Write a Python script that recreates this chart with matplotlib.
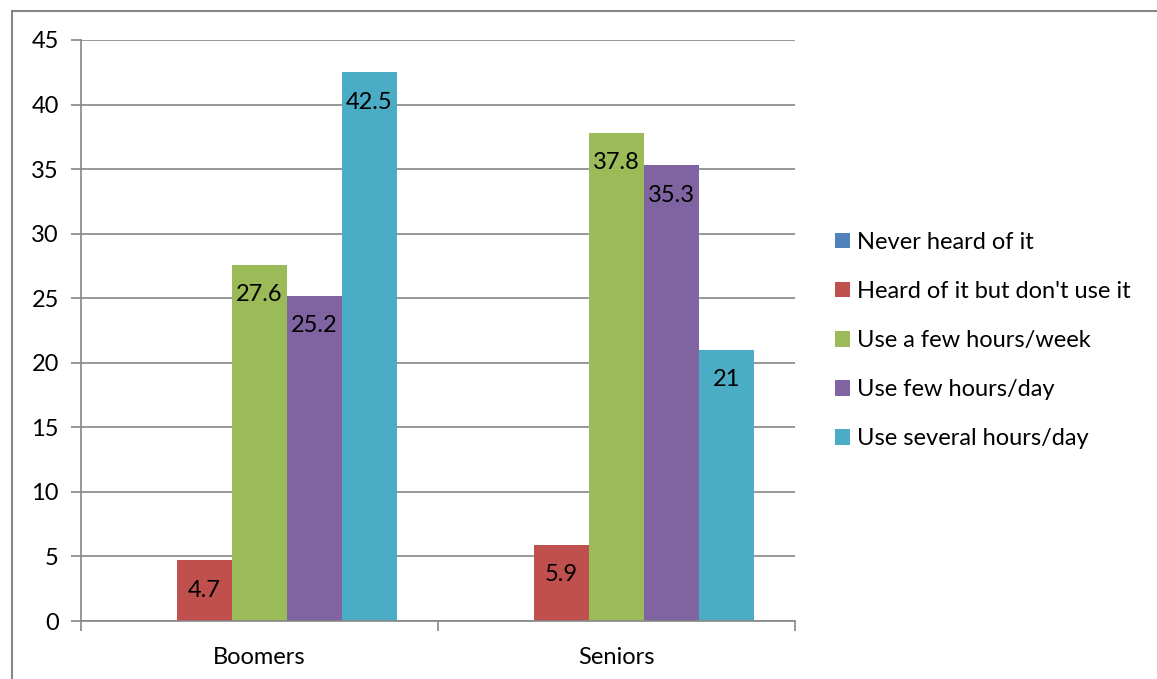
import numpy as np
import matplotlib.pyplot as plt
from matplotlib.patches import Rectangle

plt.rcParams['font.family'] = ['Lato', 'DejaVu Sans']

groups = ['Boomers', 'Seniors']
series = ['Never heard of it', "Heard of it but don't use it", 'Use a few hours/week',
          'Use few hours/day', 'Use several hours/day']
values = [
    [0, 0],
    [4.7, 5.9],
    [27.6, 37.8],
    [25.2, 35.3],
    [42.5, 21],
]
labels = [
    ['', ''],
    ['4.7', '5.9'],
    ['27.6', '37.8'],
    ['25.2', '35.3'],
    ['42.5', '21'],
]
colors = ['#4F81BD', '#C0504D', '#9BBB59', '#8064A2', '#4BACC6']
fs = 17

fig = plt.figure(figsize=(11.57, 6.79), dpi=100)
ax = fig.add_axes([81 / 1157, 1 - 621 / 679, 714 / 1157, 581 / 679])

x = np.arange(len(groups))
w = 1 / 6.5
for i, (name, vals) in enumerate(zip(series, values)):
    bars = ax.bar(x + (i - 2) * w, vals, w, color=colors[i], label=name, zorder=2)
    for b, lab in zip(bars, labels[i]):
        if lab:
            ax.annotate(lab, (b.get_x() + b.get_width() / 2, b.get_height()),
                        xytext=(0, -21.5), textcoords='offset points',
                        ha='center', va='center', fontsize=fs, color='black', zorder=3)

ax.set_xlim(-0.5, 1.5)
ax.set_ylim(0, 45)
ax.set_yticks(np.arange(0, 46, 5))
ax.yaxis.grid(True, color='#868686', linewidth=1.2, zorder=0)
ax.set_axisbelow(True)

ax.set_xticks([-0.5, 0.5, 1.5])
ax.set_xticklabels([])
ax.set_xticks(x, minor=True)
ax.set_xticklabels(groups, minor=True, fontsize=fs)
ax.tick_params(axis='x', which='minor', length=0, pad=19)
ax.tick_params(axis='x', which='major', length=7, width=1.2, color='#868686')
ax.tick_params(axis='y', length=7, width=1.2, color='#868686', labelsize=fs, pad=9)

for s in ['top', 'right']:
    ax.spines[s].set_visible(False)
for s in ['left', 'bottom']:
    ax.spines[s].set_color('#868686')
    ax.spines[s].set_linewidth(1.2)

fig.legend(loc='center left', bbox_to_anchor=(835 / 1157, 1 - 340.5 / 679),
           frameon=False, fontsize=fs, handlelength=0.64, handleheight=0.64,
           handletextpad=0.3, labelspacing=1.19, borderpad=0, borderaxespad=0)

# outer chart frame
fig.patches.append(Rectangle((12 / 1157, -0.1), 1.2, 1.1 - 11 / 679,
                             transform=fig.transFigure, fill=False,
                             edgecolor='#868686', linewidth=1.5))

fig.savefig('out.png', dpi=100)
